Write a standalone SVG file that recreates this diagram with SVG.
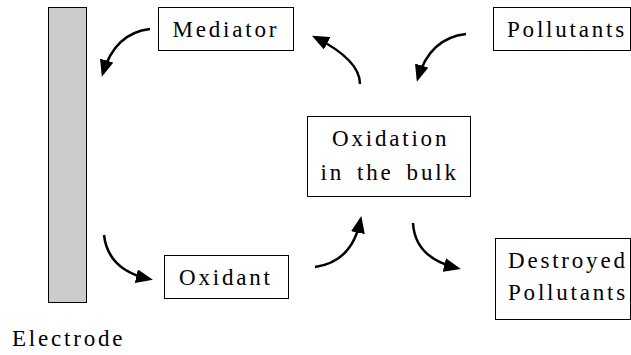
<svg xmlns="http://www.w3.org/2000/svg" width="631" height="355" viewBox="0 0 631 355">
<style>
.box{fill:#fff;stroke:#000;stroke-width:1}
.t{font-family:"Liberation Serif","Times New Roman",serif;font-size:23px;letter-spacing:2.8px;fill:#000}
.arr{fill:none;stroke:#000;stroke-width:2.5;marker-end:url(#ah)}
</style>
<defs>
<marker id="ah" viewBox="0 0 17 14" markerWidth="17" markerHeight="14" refX="13" refY="7" orient="auto" markerUnits="userSpaceOnUse">
<path d="M0,0 L17,7 L0,14 z" fill="#000"/>
</marker>
</defs>
<rect width="631" height="355" fill="#fff"/>
<g id="electrode">
<rect x="48.5" y="7.5" width="38" height="295" fill="#cccccc" stroke="#000" stroke-width="1"/>
<text class="t" x="12" y="346">Electrode</text>
</g>
<g id="mediator">
<rect class="box" x="158.5" y="7.5" width="135" height="43"/>
<text class="t" x="172.5" y="37">Mediator</text>
</g>
<g id="pollutants">
<rect class="box" x="493.5" y="7.5" width="137" height="43"/>
<text class="t" x="507" y="37">Pollutants</text>
</g>
<g id="oxidation">
<rect class="box" x="307.5" y="116.5" width="163" height="80"/>
<text class="t" x="332" y="146">Oxidation</text>
<text class="t" x="320.5" y="180" word-spacing="4.5">in the bulk</text>
</g>
<g id="oxidant">
<rect class="box" x="164.5" y="255.5" width="124" height="43"/>
<text class="t" x="179" y="285">Oxidant</text>
</g>
<g id="destroyed">
<rect class="box" x="495.5" y="238.5" width="135" height="81"/>
<text class="t" x="508" y="268">Destroyed</text>
<text class="t" x="508" y="300">Pollutants</text>
</g>
<g id="connectors">
<path class="arr" d="M150,29 Q115,33 103,73"/>
<path class="arr" d="M360,84 Q360,60 315.5,37.5"/>
<path class="arr" d="M466,34 Q430,38 418,78"/>
<path class="arr" d="M104,235 Q108,270 149,279"/>
<path class="arr" d="M315,267 Q352,262 360.5,220"/>
<path class="arr" d="M413,223 Q415,258 457,268"/>
</g>
</svg>
